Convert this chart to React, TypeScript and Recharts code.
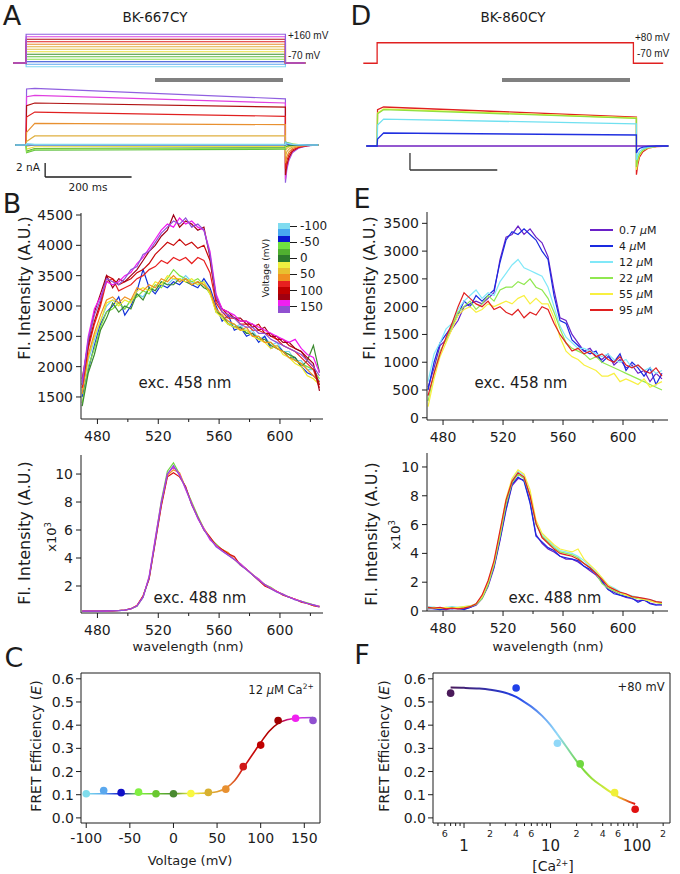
import React from 'react'
import { LineChart, Line, XAxis, YAxis, ReferenceLine } from 'recharts'

const FONT = '"DejaVu Sans", Verdana, sans-serif'
const SMALL = '"Liberation Sans", Arial, sans-serif'
const INK = '#1c1c1c'

// ---------- A: BK-667CY voltage family + currents (nA, ms) ----------
const aVolts = [-100, -80, -60, -40, -20, 0, 20, 40, 60, 80, 100, 120, 140, 160]
const aColors = ['#80d8f0', '#60a8f0', '#2040d0', '#90e050', '#60c040', '#3c9030', '#e8e040', '#e0c050', '#e0b040', '#e89030', '#e02020', '#b01010', '#e040e0', '#9060e0']
const hold = -70
const stepT = [-30, 0, 0, 600, 600, 646]
const aEarly = [0.2, 0.1, 0, -1.0, -1.1, -0.9, -0.6, -0.2, 0.5, 1.8, 4.0, 5.6, 6.9, 8.0]
const aStart = [0.1, 0.05, 0, -0.6, -0.75, -0.5, -0.25, 0.05, 1.3, 3.1, 4.7, 6.0, 7.1, 8.1]
const aEnd = [0.1, 0.05, 0, -0.45, -0.6, -0.4, -0.2, 0.05, 1.3, 2.9, 4.1, 5.4, 6.0, 6.6]
const aTailT = [600, 603, 608, 616, 630, 650, 676]
const aTails = [
  [0.3, 0.25, 0.2, 0.1, 0.05, 0, 0],
  [0.4, 0.3, 0.2, 0.1, 0.05, 0, 0],
  [0.2, 0.15, 0.1, 0.05, 0, 0, 0],
  [0.5, 0.4, 0.3, 0.15, 0.05, 0, 0],
  [0.3, 0.2, 0.15, 0.1, 0, 0, 0],
  [-0.2, -0.15, -0.1, -0.05, 0, 0, 0],
  [-0.4, -0.3, -0.2, -0.1, -0.05, 0, 0],
  [-0.8, -0.5, -0.3, -0.15, -0.05, 0, 0],
  [-1.6, -1.0, -0.6, -0.3, -0.1, 0, 0],
  [-2.6, -1.7, -1.0, -0.5, -0.2, -0.05, 0],
  [-3.4, -2.3, -1.4, -0.7, -0.3, -0.1, 0],
  [-4.3, -2.9, -1.8, -0.9, -0.35, -0.1, 0],
  [-4.9, -3.3, -2.0, -1.0, -0.4, -0.1, 0],
  [-5.4, -3.6, -2.2, -1.1, -0.45, -0.12, 0],
]

// ---------- D: BK-860CY single step + currents ----------
const dStepT = [-32, 0, 0, 593, 593, 662]
const dStepV = [-70, -70, 80, 80, -70, -70]
const dColors = ['#e02020', '#f0f040', '#90e040', '#70e0f0', '#7020c0', '#2030e0']
const dEarly = [5.2, 4.7, 4.6, 3.0, 0, 1.0]
const dStart = [5.57, 5.3, 5.2, 3.85, 0, 1.86]
const dEnd = [4.14, 4.0, 3.95, 3.15, 0, 1.57]
const dTailT = [600, 603, 607, 615, 627, 647, 674]
const dTails = [
  [-4.1, -2.7, -1.6, -0.8, -0.3, -0.08, 0],
  [-3.4, -2.2, -1.3, -0.6, -0.25, -0.05, 0],
  [-3.0, -2.0, -1.2, -0.6, -0.2, -0.05, 0],
  [-2.0, -1.3, -0.8, -0.4, -0.15, -0.05, 0],
  [0, 0, 0, 0, 0, 0, 0],
  [-1.0, -0.6, -0.35, -0.15, -0.05, 0, 0],
]

// ---------- spectra ----------
const wl = [470, 474, 478, 482, 486, 490, 494, 498, 502, 506, 510, 514, 518, 522, 526, 530, 534, 538, 542, 546,
  550, 554, 558, 562, 566, 570, 574, 578, 582, 586, 590, 594, 598, 602, 606, 610, 614, 618, 622, 626]
const wlTicks = [480, 500, 520, 540, 560, 580, 600, 620]

// B, exc. 458 nm, by voltage
const bTopM100 = [1650, 2100, 2450, 2750, 3000, 3100, 3050, 2950, 3100, 3200,
  3150, 3300, 3250, 3400, 3350, 3450, 3400, 3500, 3400, 3350,
  3400, 3250, 2950, 2800, 2750, 2650, 2700, 2550, 2600, 2450,
  2500, 2350, 2400, 2250, 2250, 2100, 2100, 1950, 1950, 1750]
const bTopM60 = [1500, 1950, 2350, 2700, 2900, 3000, 3150, 2850, 3000, 3250,
  3600, 3300, 3200, 3350, 3300, 3400, 3350, 3450, 3350, 3300,
  3450, 3300, 3000, 2750, 2850, 2600, 2650, 2500, 2550, 2400,
  2500, 2300, 2350, 2250, 2150, 2150, 2000, 1900, 1850, 1750]
const bTopM40 = [1400, 2000, 2300, 2650, 2900, 2950, 3050, 2950, 3100, 3150,
  3250, 3200, 3350, 3300, 3450, 3600, 3500, 3450, 3400, 3450,
  3350, 3200, 2950, 2800, 2700, 2700, 2600, 2600, 2500, 2500,
  2400, 2400, 2300, 2250, 2200, 2100, 2050, 2000, 1950, 1800]
const bTop0 = [1350, 1900, 2200, 2600, 2800, 3050, 2900, 3000, 2950, 3200,
  3100, 3300, 3250, 3400, 3350, 3350, 3450, 3400, 3350, 3400,
  3300, 3250, 2900, 2850, 2700, 2650, 2650, 2550, 2550, 2450,
  2450, 2350, 2300, 2250, 2200, 2150, 2000, 2100, 2350, 1900]
const bTop20 = [1600, 2150, 2500, 2750, 3050, 3100, 3000, 3100, 3050, 3250,
  3300, 3250, 3400, 3350, 3500, 3450, 3450, 3400, 3450, 3350,
  3400, 3200, 2900, 2800, 2700, 2650, 2600, 2600, 2500, 2450,
  2400, 2300, 2350, 2200, 2150, 2050, 2000, 1850, 1800, 1700]
const bTop60 = [1550, 2200, 2550, 2850, 3100, 3150, 3050, 3150, 3100, 3300,
  3250, 3350, 3300, 3450, 3400, 3500, 3400, 3450, 3350, 3400,
  3350, 3250, 2950, 2850, 2750, 2700, 2600, 2650, 2500, 2500,
  2400, 2400, 2300, 2250, 2150, 2100, 2050, 1950, 1850, 1750]
const bTop80 = [1650, 2300, 2700, 3000, 3400, 3450, 3250, 3300, 3350, 3450,
  3500, 3600, 3650, 3750, 3700, 3800, 3750, 3800, 3700, 3800,
  3750, 3550, 3050, 2900, 2800, 2800, 2700, 2700, 2600, 2600,
  2550, 2500, 2450, 2350, 2300, 2250, 2150, 2050, 1950, 1650]
const bTop100 = [1700, 2350, 2750, 3050, 3500, 3450, 3350, 3400, 3450, 3550,
  3600, 3700, 3850, 3950, 4050, 4000, 4100, 4000, 4050, 3950,
  4000, 3750, 3100, 2950, 2850, 2800, 2750, 2750, 2650, 2700,
  2550, 2550, 2450, 2450, 2350, 2300, 2250, 2100, 2000, 1700]
const bTop120 = [1800, 2400, 2900, 3200, 3500, 3300, 3450, 3400, 3500, 3600,
  3750, 3900, 4000, 4150, 4250, 4500, 4300, 4400, 4350, 4250,
  4300, 3800, 3150, 2950, 2900, 2800, 2800, 2700, 2700, 2600,
  2650, 2500, 2500, 2400, 2400, 2300, 2250, 2150, 2050, 1600]
const bTop140 = [1750, 2500, 2950, 3150, 3400, 3350, 3400, 3500, 3550, 3700,
  3800, 3950, 4100, 4250, 4350, 4300, 4450, 4350, 4400, 4300,
  4250, 3900, 3200, 2950, 2900, 2850, 2750, 2750, 2700, 2650,
  2600, 2550, 2500, 2450, 2400, 2450, 2300, 2200, 2150, 1900]
const bTop160 = [1700, 2450, 2850, 3100, 3450, 3400, 3350, 3450, 3600, 3650,
  3850, 3900, 4050, 4200, 4300, 4400, 4350, 4450, 4300, 4350,
  4250, 3850, 3150, 2900, 2850, 2800, 2700, 2650, 2650, 2550,
  2550, 2450, 2400, 2350, 2300, 2250, 2200, 2100, 2000, 1850]
const bTopColors = ['#70d0f0', '#1030d8', '#80e040', '#3c8a30', '#f0e828', '#f09020', '#e82020', '#c80808', '#a00018', '#f018f0', '#9050d8']

// B, exc. 488 nm (x10^3)
const bBotGreen = [0.2, 0.2, 0.2, 0.2, 0.21, 0.22, 0.24, 0.28, 0.37, 0.55,
  1.2, 2.6, 5.3, 8.1, 10.2, 10.8, 10.0, 9.0, 8.0, 7.0,
  6.1, 5.4, 5.0, 4.6, 4.3, 3.9, 3.6, 3.2, 2.8, 2.5,
  2.1, 1.9, 1.6, 1.4, 1.2, 1.05, 0.9, 0.8, 0.65, 0.55]
const bBotOrange = [0.2, 0.2, 0.2, 0.21, 0.21, 0.22, 0.25, 0.28, 0.37, 0.6,
  1.25, 2.6, 5.2, 7.8, 9.9, 10.3, 10.1, 9.0, 7.9, 6.9,
  6.1, 5.5, 4.9, 4.6, 4.4, 3.9, 3.5, 3.2, 2.8, 2.4,
  2.1, 1.85, 1.6, 1.4, 1.2, 1.05, 0.9, 0.75, 0.6, 0.55]
const bBotRed = [0.2, 0.2, 0.21, 0.2, 0.22, 0.22, 0.25, 0.28, 0.38, 0.6,
  1.3, 2.5, 5.1, 7.7, 9.8, 10.1, 9.8, 9.1, 7.8, 6.9,
  6.0, 5.5, 4.9, 4.6, 4.3, 4.1, 3.5, 3.2, 2.8, 2.4,
  2.0, 1.8, 1.6, 1.35, 1.2, 1.05, 0.85, 0.75, 0.6, 0.5]
const bBotMagenta = [0.2, 0.21, 0.2, 0.21, 0.21, 0.23, 0.24, 0.27, 0.36, 0.58,
  1.2, 2.7, 5.4, 8.0, 10.0, 10.5, 10.0, 8.9, 7.9, 6.8,
  6.1, 5.3, 4.9, 4.5, 4.2, 3.9, 3.6, 3.2, 2.8, 2.5,
  2.1, 1.85, 1.6, 1.4, 1.2, 1.05, 0.9, 0.75, 0.65, 0.55]
const bBotPurple = [0.21, 0.2, 0.2, 0.21, 0.22, 0.22, 0.24, 0.27, 0.37, 0.57,
  1.2, 2.6, 5.2, 7.9, 10.0, 10.6, 9.9, 9.0, 7.8, 6.9,
  6.0, 5.4, 4.8, 4.5, 4.2, 3.9, 3.5, 3.15, 2.8, 2.4,
  2.1, 1.8, 1.55, 1.4, 1.2, 1.0, 0.9, 0.75, 0.65, 0.5]
const bBotColors = ['#70d840', '#f0a020', '#d81010', '#e828e8', '#9050d8']

// colour bar in B
const barColors = ['#80dcf0', '#48a8f0', '#0818d0', '#70e040', '#50b030', '#2c7a2c', '#f0f040', '#e8c030', '#f09020', '#e82020', '#c00000', '#a00010', '#f020f0', '#9050d0']
const barTicks = [-100, -50, 0, 50, 100, 150]

// E, exc. 458 nm, by [Ca2+]
const eLabels = ['0.7', '4', '12', '22', '55', '95']
const eColors = ['#6a20c8', '#1a2ae0', '#80e8f8', '#90e850', '#f8f040', '#e02020']
const eTop07 = [550, 900, 1300, 1400, 1600, 1750, 2000, 2050, 2100, 2050,
  2150, 2250, 2850, 3250, 3300, 3450, 3300, 3400, 3250, 3150,
  2900, 2300, 1800, 1750, 1500, 1350, 1200, 1250, 1100, 1050,
  1150, 950, 1050, 900, 950, 800, 850, 650, 800, 700]
const eTop4 = [500, 1000, 1350, 1500, 1650, 1850, 2100, 2000, 2200, 2100,
  2200, 2300, 2800, 3200, 3350, 3300, 3400, 3300, 3200, 3000,
  2850, 2200, 1750, 1700, 1400, 1300, 1200, 1150, 1200, 1000,
  1100, 1000, 1150, 850, 1000, 900, 750, 900, 600, 800]
const eTop12 = [650, 1150, 1350, 1600, 1700, 1950, 2100, 2200, 2300, 2150,
  2250, 2200, 2450, 2600, 2750, 2850, 2700, 2650, 2600, 2550,
  2350, 2000, 1650, 1450, 1350, 1250, 1250, 1200, 1150, 1100,
  1150, 1050, 1000, 1050, 900, 950, 850, 900, 800, 850]
const eTop22 = [300, 800, 1200, 1400, 1650, 1900, 2000, 2100, 1950, 2050,
  2200, 2100, 2300, 2350, 2350, 2450, 2400, 2500, 2350, 2300,
  2150, 1900, 1600, 1350, 1250, 1200, 1150, 1050, 1100, 1000,
  950, 900, 850, 800, 750, 700, 650, 600, 550, 500]
const eTop55 = [200, 700, 1100, 1350, 1600, 1850, 1950, 2000, 1900, 1950,
  2050, 2000, 2050, 2100, 2050, 2150, 2200, 2050, 2150, 2050,
  2050, 1800, 1450, 1200, 1100, 1050, 950, 900, 850, 750,
  750, 800, 650, 700, 650, 600, 700, 550, 600, 650]
const eTop95 = [400, 800, 1150, 1450, 1700, 2000, 2250, 2150, 2050, 2000,
  2100, 1950, 2000, 1900, 1850, 1950, 1800, 1900, 1850, 2000,
  1950, 1700, 1500, 1350, 1200, 1250, 1150, 1200, 1100, 1150,
  1050, 1000, 1100, 950, 900, 950, 850, 800, 900, 750]

// E, exc. 488 nm (x10^3)
const eBot07 = [0.15, 0.2, 0.15, 0.1, 0.2, 0.15, 0.15, 0.25, 0.4, 0.85,
  1.7, 3.0, 4.9, 7.0, 8.7, 9.2, 9.1, 7.6, 5.3, 4.7,
  4.3, 4.1, 3.8, 3.6, 3.6, 3.4, 3.1, 2.8, 2.5, 2.0,
  1.5, 1.3, 1.1, 0.95, 0.85, 0.7, 0.75, 0.55, 0.45, 0.4]
const eBot4 = [0.2, 0.15, 0.1, 0.2, 0.15, 0.2, 0.1, 0.25, 0.45, 0.9,
  1.8, 3.1, 5.0, 7.1, 8.8, 9.3, 9.0, 7.5, 5.2, 4.8,
  4.4, 4.2, 3.8, 3.7, 3.6, 3.5, 3.1, 2.9, 2.6, 2.1,
  1.5, 1.2, 1.1, 1.0, 0.9, 0.6, 0.8, 0.5, 0.4, 0.45]
const eBot12 = [0.3, 0.25, 0.2, 0.25, 0.3, 0.25, 0.3, 0.35, 0.5, 0.95,
  1.9, 3.3, 5.3, 7.5, 9.1, 9.7, 9.4, 8.1, 6.0, 5.3,
  4.9, 4.5, 4.2, 4.1, 4.0, 3.8, 3.5, 3.1, 2.7, 2.3,
  1.8, 1.6, 1.35, 1.15, 1.05, 0.95, 0.85, 0.8, 0.65, 0.6]
const eBot22 = [0.2, 0.25, 0.2, 0.2, 0.25, 0.2, 0.25, 0.3, 0.45, 0.85,
  1.8, 3.2, 5.2, 7.4, 8.9, 9.5, 9.2, 8.0, 6.0, 5.2,
  4.8, 4.4, 4.1, 4.0, 3.9, 3.7, 3.3, 3.0, 2.6, 1.9,
  1.6, 1.4, 1.2, 1.1, 0.95, 0.85, 0.8, 0.7, 0.6, 0.5]
const eBot55 = [0.25, 0.2, 0.2, 0.25, 0.2, 0.25, 0.3, 0.35, 0.5, 1.0,
  2.0, 3.4, 5.5, 7.8, 9.2, 9.8, 9.5, 8.4, 6.3, 5.4,
  5.0, 4.6, 4.3, 4.2, 4.1, 4.3, 3.6, 3.2, 2.8, 2.3,
  1.8, 1.5, 1.3, 1.1, 1.0, 0.9, 0.8, 0.7, 0.6, 0.55]
const eBot95 = [0.25, 0.2, 0.25, 0.15, 0.2, 0.15, 0.2, 0.3, 0.5, 1.1,
  2.1, 3.5, 5.6, 7.7, 9.0, 9.6, 9.3, 8.0, 6.1, 5.1,
  4.7, 4.3, 4.0, 3.9, 3.8, 3.6, 3.3, 3.0, 2.6, 2.2,
  1.7, 1.5, 1.3, 1.2, 1.0, 0.95, 0.88, 0.8, 0.65, 0.6]

// ---------- C: FRET vs voltage ----------
const cE = [0.104, 0.118, 0.109, 0.111, 0.104, 0.104, 0.105, 0.11, 0.124, 0.221, 0.314, 0.42, 0.43, 0.42]
const cColors = ['#7fdcec', '#5aa8ee', '#1010c8', '#80f040', '#6ac830', '#4a8a30', '#f8f840', '#d8b030', '#e89030', '#d01818', '#c00000', '#a00000', '#f020f0', '#9050d0']
const cFitV = [-100, -90, -80, -70, -60, -50, -40, -30, -20, -10, 0, 10, 20, 30, 40, 50, 60, 70, 80, 90, 100, 110, 120, 130, 140, 150, 160]
const cFitE = [0.104, 0.104, 0.104, 0.104, 0.104, 0.104, 0.104, 0.104, 0.104, 0.104, 0.104, 0.105, 0.105, 0.106, 0.108, 0.113, 0.128, 0.16, 0.215, 0.27, 0.325, 0.375, 0.408, 0.423, 0.43, 0.432, 0.433]
const cTicks = [-100, -50, 0, 50, 100, 150]
const fretTicks = [0, 0.1, 0.2, 0.3, 0.4, 0.5, 0.6]

// ---------- F: FRET vs [Ca2+] ----------
const fConc = [0.7, 4, 12, 22, 55, 95]
const fE = [0.538, 0.56, 0.322, 0.233, 0.109, 0.037]
const fColors = ['#4a1a5a', '#2040e8', '#90d8f8', '#70d840', '#f0f038', '#e01010']
const fFitC = [0.7, 1, 1.5, 2, 3, 4, 5, 6, 8, 10, 12, 15, 20, 25, 30, 40, 50, 60, 70, 80, 95]
const fFitE = [0.562, 0.561, 0.558, 0.553, 0.54, 0.522, 0.5, 0.48, 0.44, 0.4, 0.36, 0.31, 0.245, 0.2, 0.17, 0.135, 0.11, 0.092, 0.08, 0.07, 0.06]
const fTicks = [0.5, 0.6, 0.7, 0.8, 0.9, 1, 2, 3, 4, 5, 6, 7, 8, 9, 10, 20, 30, 40, 50, 60, 70, 80, 90, 100, 200]
const fMajor = [1, 10, 100]
const fMinorLab = [0.6, 2, 4, 6, 20, 40, 60, 200]

type Rect = { x0: number; y0: number; x1: number; y1: number }
const PAD = 8
function place(r: Rect, yw = 0, xh = 0) {
  return {
    style: { position: 'absolute' as const, left: r.x0 - yw - PAD, top: r.y0 - PAD },
    width: r.x1 - r.x0 + yw + 2 * PAD,
    height: r.y1 - r.y0 + xh + 2 * PAD,
    margin: { top: PAD, right: PAD, bottom: PAD, left: PAD },
  }
}

function Txt({ x, y, size = 13, anchor = 'center', rotate = false, font = FONT, children }: any) {
  const tx = anchor === 'center' ? '-50%' : anchor === 'right' ? '-100%' : '0'
  return (
    <div style={{
      position: 'absolute', left: x, top: y, fontSize: size, lineHeight: 1, whiteSpace: 'nowrap', fontFamily: font,
      transform: `translate(${rotate ? '-50%' : tx}, -50%)${rotate ? ' rotate(-90deg)' : ''}`,
    }}>{children}</div>
  )
}

const WlTick = ({ x, y, payload }: any) => {
  const major = payload.value % 40 === 0
  return (
    <g>
      <line x1={x} x2={x} y1={y} y2={y + (major ? 5 : 3)} stroke={INK} />
      {major && <text x={x} y={y + 22} textAnchor="middle" fontSize={14} fill={INK} fontFamily={FONT}>{payload.value}</text>}
    </g>
  )
}

const FTick = ({ x, y, payload }: any) => {
  const v = payload.value
  const major = fMajor.includes(v)
  const lead = Math.round(v / Math.pow(10, Math.floor(Math.log10(v) + 1e-9)))
  return (
    <g>
      <line x1={x} x2={x} y1={y} y2={y + (major ? 5 : 3)} stroke={INK} />
      {fMinorLab.includes(v) && <text x={x} y={y + 14} textAnchor="middle" fontSize={9.5} fill={INK} fontFamily={FONT}>{lead}</text>}
      {major && <text x={x} y={y + 28} textAnchor="middle" fontSize={15} fill={INK} fontFamily={FONT}>{v}</text>}
    </g>
  )
}

const axisStroke = { stroke: INK }
const tickFont = { fontSize: 14, fill: INK, fontFamily: FONT }

function Spectrum({ rect, series, colors, xDomain, yDomain, yTicks }: any) {
  const rows = wl.map((w, i) => {
    const row: Record<string, number> = { w }
    series.forEach((s: number[], k: number) => { row['s' + k] = s[i] })
    return row
  })
  const p = place(rect, 50, 30)
  return (
    <div style={p.style}>
      <LineChart width={p.width} height={p.height} margin={p.margin} data={rows}>
        <XAxis type="number" dataKey="w" domain={xDomain} allowDataOverflow ticks={wlTicks} interval={0} height={30}
          tickSize={0} tickMargin={0} tickLine={false} axisLine={axisStroke} tick={(t: any) => <WlTick {...t} />} />
        <YAxis type="number" domain={yDomain} allowDataOverflow ticks={yTicks} interval={0} width={50}
          tickSize={5} tickMargin={3} axisLine={axisStroke} tickLine={axisStroke} tick={tickFont} />
        {series.map((_: any, k: number) => (
          <Line key={k} dataKey={'s' + k} stroke={colors[k]} strokeWidth={1.2} dot={false} activeDot={false} isAnimationActive={false} />
        ))}
      </LineChart>
    </div>
  )
}

const aVRect = { x0: 11, y0: 33, x1: 320, y1: 68 }
const aIRect = { x0: 11, y0: 85, x1: 320, y1: 187 }
const dVRect = { x0: 362, y0: 40, x1: 671, y1: 66 }
const dIRect = { x0: 362, y0: 104, x1: 671, y1: 178 }
const cRect = { x0: 81, y0: 673, x1: 320, y1: 823 }
const fRect = { x0: 433, y0: 673, x1: 670, y1: 823 }
const cXDom = [-106, 168]
const fXDom = [0.438, 240]
const fretDom = [-0.022, 0.625]

export default function App() {
  const pav = place(aVRect)
  const pai = place(aIRect)
  const pdv = place(dVRect)
  const pdi = place(dIRect)
  const pc = place(cRect, 40, 30)
  const pf = place(fRect, 40, 36)

  const aTrace = (k: number) => [
    { t: -25, i: 0 }, { t: 0, i: 0 }, { t: 1, i: aEarly[k] }, { t: 20, i: aStart[k] }, { t: 600, i: aEnd[k] },
    ...aTailT.map((t, j) => ({ t, i: aTails[k][j] })),
  ]
  const dTrace = (k: number) => [
    { t: -25, i: 0 }, { t: 0, i: 0 }, { t: 1, i: dEarly[k] }, { t: 15, i: dStart[k] }, { t: 600, i: dEnd[k] },
    ...dTailT.map((t, j) => ({ t, i: dTails[k][j] })),
  ]
  const cPts = aVolts.map((v, i) => ({ v, e: cE[i] }))
  const cFit = cFitV.map((v, i) => ({ v, e: cFitE[i] }))
  const fPts = fConc.map((c, i) => ({ c, e: fE[i] }))
  const fFit = fFitC.map((c, i) => ({ c, e: fFitE[i] }))
  const lg = (c: number) => Math.log10(c)
  const barBand = 90 / barColors.length

  return (
    <div style={{ position: 'absolute', left: 0, top: 0, width: 680, height: 874, background: '#fff', color: INK, fontFamily: FONT, overflow: 'hidden' }}>
      <svg width={0} height={0} style={{ position: 'absolute' }}>
        <defs>
          <linearGradient id="gradC" x1="0" y1="0" x2="1" y2="0">
            {aVolts.map((v, k) => <stop key={k} offset={(v - aVolts[0]) / (aVolts[aVolts.length - 1] - aVolts[0])} stopColor={cColors[k]} />)}
          </linearGradient>
          <linearGradient id="gradF" x1="0" y1="0" x2="1" y2="0">
            {fConc.map((c, k) => <stop key={k} offset={(lg(c) - lg(fConc[0])) / (lg(fConc[fConc.length - 1]) - lg(fConc[0]))} stopColor={fColors[k]} />)}
          </linearGradient>
        </defs>
      </svg>

      {/* panel letters and titles */}
      <Txt x={12} y={15} size={27}>A</Txt>
      <Txt x={361} y={15} size={27}>D</Txt>
      <Txt x={12} y={203} size={27}>B</Txt>
      <Txt x={362} y={198} size={27}>E</Txt>
      <Txt x={14} y={657} size={27}>C</Txt>
      <Txt x={362} y={654} size={27}>F</Txt>
      <Txt x={155} y={18} size={13.5}>BK-667CY</Txt>
      <Txt x={513} y={18} size={13.5}>BK-860CY</Txt>

      {/* A */}
      <div style={pav.style}>
        <LineChart width={pav.width} height={pav.height} margin={pav.margin}>
          <XAxis type="number" dataKey="t" domain={[-35, 680]} allowDataOverflow hide />
          <YAxis type="number" domain={[-110, 170]} allowDataOverflow hide />
          {aVolts.map((V, k) => (
            <Line key={k} data={stepT.map((t, j) => ({ t, v: j >= 2 && j <= 3 ? V : hold }))} dataKey="v"
              stroke={aColors[k]} strokeWidth={1.2} dot={false} activeDot={false} isAnimationActive={false} />
          ))}
        </LineChart>
      </div>
      <Txt x={288} y={36} size={10} anchor="left" font={SMALL}>+160 mV</Txt>
      <Txt x={288} y={56} size={10} anchor="left" font={SMALL}>-70 mV</Txt>
      <div style={{ position: 'absolute', left: 155, top: 78, width: 128, height: 4, background: '#808080' }} />
      <div style={pai.style}>
        <LineChart width={pai.width} height={pai.height} margin={pai.margin}>
          <XAxis type="number" dataKey="t" domain={[-35, 680]} allowDataOverflow hide />
          <YAxis type="number" domain={[-6, 8.571]} allowDataOverflow hide />
          {aVolts.map((_, k) => aVolts.length - 1 - k).map(k => (
            <Line key={k} data={aTrace(k)} dataKey="i" stroke={aColors[k]} strokeWidth={1.2} dot={false} activeDot={false} isAnimationActive={false} />
          ))}
          <ReferenceLine segment={[{ x: 44, y: -2.57 }, { x: 44, y: -4.57 }]} stroke={INK} strokeWidth={1.3} />
          <ReferenceLine segment={[{ x: 44, y: -4.57 }, { x: 244, y: -4.57 }]} stroke={INK} strokeWidth={1.3} />
        </LineChart>
      </div>
      <Txt x={28} y={167} size={10.5}>2 nA</Txt>
      <Txt x={88} y={187} size={10.5}>200 ms</Txt>

      {/* D */}
      <div style={pdv.style}>
        <LineChart width={pdv.width} height={pdv.height} margin={pdv.margin}>
          <XAxis type="number" dataKey="t" domain={[-35, 680]} allowDataOverflow hide />
          <YAxis type="number" domain={[-90, 100]} allowDataOverflow hide />
          <Line data={dStepT.map((t, j) => ({ t, v: dStepV[j] }))} dataKey="v" stroke="#e02020" strokeWidth={1.3} dot={false} activeDot={false} isAnimationActive={false} />
        </LineChart>
      </div>
      <Txt x={635} y={38} size={10} anchor="left" font={SMALL}>+80 mV</Txt>
      <Txt x={637} y={54} size={10} anchor="left" font={SMALL}>-70 mV</Txt>
      <div style={{ position: 'absolute', left: 502, top: 78, width: 128, height: 4, background: '#808080' }} />
      <div style={pdi.style}>
        <LineChart width={pdi.width} height={pdi.height} margin={pdi.margin}>
          <XAxis type="number" dataKey="t" domain={[-35, 680]} allowDataOverflow hide />
          <YAxis type="number" domain={[-4.571, 6]} allowDataOverflow hide />
          {dColors.map((c, k) => (
            <Line key={k} data={dTrace(k)} dataKey="i" stroke={c} strokeWidth={1.3} dot={false} activeDot={false} isAnimationActive={false} />
          ))}
          <ReferenceLine segment={[{ x: 76, y: -1.0 }, { x: 76, y: -3.43 }]} stroke="#333" strokeWidth={1.3} />
          <ReferenceLine segment={[{ x: 76, y: -3.43 }, { x: 278, y: -3.43 }]} stroke="#333" strokeWidth={1.3} />
        </LineChart>
      </div>

      {/* B */}
      <Spectrum rect={{ x0: 81, y0: 213, x1: 323, y1: 419 }} xDomain={[469.2, 628.3]} yDomain={[1137, 4533]}
        yTicks={[1500, 2000, 2500, 3000, 3500, 4000, 4500]}
        series={[bTopM100, bTopM60, bTopM40, bTop0, bTop20, bTop60, bTop80, bTop100, bTop120, bTop140, bTop160]} colors={bTopColors} />
      <Spectrum rect={{ x0: 81, y0: 455, x1: 323, y1: 613 }} xDomain={[469.2, 628.3]} yDomain={[0.07, 11.36]}
        yTicks={[2, 4, 6, 8, 10]}
        series={[bBotGreen, bBotOrange, bBotRed, bBotMagenta, bBotPurple]} colors={bBotColors} />
      <Txt x={25} y={288} size={16} rotate>Fl. Intensity (A.U.)</Txt>
      <Txt x={25} y={533} size={16} rotate>Fl. Intensity (A.U.)</Txt>
      <Txt x={51} y={537} size={13} rotate>x10<sup style={{ fontSize: '0.65em' }}>3</sup></Txt>
      <Txt x={185} y={383} size={15}>exc. 458 nm</Txt>
      <Txt x={200} y={598} size={15}>exc. 488 nm</Txt>
      <Txt x={188} y={646} size={13}>wavelength (nm)</Txt>
      <div style={{ position: 'absolute', left: 278, top: 223, width: 12 }}>
        {barColors.map((c, k) => <div key={k} style={{ height: barBand, background: c }} />)}
      </div>
      {barTicks.map(v => {
        const y = 223 + ((v - aVolts[0]) / 20 + 0.5) * barBand
        return (
          <React.Fragment key={v}>
            <div style={{ position: 'absolute', left: 290, top: y - 0.5, width: 7, height: 1, background: INK }} />
            <Txt x={300} y={y} size={12} anchor="left">{v}</Txt>
          </React.Fragment>
        )
      })}
      <Txt x={266} y={268} size={9} rotate>Voltage (mV)</Txt>

      {/* E */}
      <Spectrum rect={{ x0: 427, y0: 212, x1: 668, y1: 420 }} xDomain={[469.3, 630]} yDomain={[-40, 3704]}
        yTicks={[0, 500, 1000, 1500, 2000, 2500, 3000, 3500]}
        series={[eTop07, eTop4, eTop12, eTop22, eTop55, eTop95]} colors={eColors} />
      <Spectrum rect={{ x0: 427, y0: 453, x1: 668, y1: 611 }} xDomain={[469.3, 630]} yDomain={[0, 10.97]}
        yTicks={[0, 2, 4, 6, 8, 10]}
        series={[eBot07, eBot4, eBot12, eBot22, eBot55, eBot95]} colors={eColors} />
      <Txt x={370} y={288} size={16} rotate>Fl. Intensity (A.U.)</Txt>
      <Txt x={372} y={534} size={16} rotate>Fl. Intensity (A.U.)</Txt>
      <Txt x={395} y={535} size={13} rotate>x10<sup style={{ fontSize: '0.65em' }}>3</sup></Txt>
      <Txt x={521} y={383} size={15}>exc. 458 nm</Txt>
      <Txt x={555} y={598} size={15}>exc. 488 nm</Txt>
      <Txt x={548} y={646} size={13}>wavelength (nm)</Txt>
      {eLabels.map((l, k) => (
        <React.Fragment key={l}>
          <div style={{ position: 'absolute', left: 590, top: 229 + k * 16, width: 23, height: 2, background: eColors[k] }} />
          <Txt x={619} y={230 + k * 16} size={11} anchor="left">{l} <i>μ</i>M</Txt>
        </React.Fragment>
      ))}

      {/* C */}
      <div style={pc.style}>
        <LineChart width={pc.width} height={pc.height} margin={pc.margin}>
          <XAxis type="number" dataKey="v" domain={cXDom} allowDataOverflow ticks={cTicks} interval={0} height={30}
            tickSize={5} tickMargin={5} axisLine={axisStroke} tickLine={axisStroke} tick={tickFont} />
          <YAxis type="number" domain={fretDom} allowDataOverflow ticks={fretTicks} interval={0} width={40}
            tickSize={5} tickMargin={2} axisLine={axisStroke} tickLine={axisStroke} tick={tickFont} tickFormatter={(v: number) => v.toFixed(1)} />
          <ReferenceLine y={fretDom[1]} stroke={INK} ifOverflow="visible" />
          <ReferenceLine x={cXDom[1]} stroke={INK} ifOverflow="visible" />
          <Line data={cFit} dataKey="e" type="monotone" stroke="url(#gradC)" strokeWidth={1.6} dot={false} activeDot={false} isAnimationActive={false} />
          <Line data={cPts} dataKey="e" stroke="none" activeDot={false} isAnimationActive={false}
            dot={(d: any) => <circle key={d.index} cx={d.cx} cy={d.cy} r={3.8} fill={cColors[d.index]} />} />
        </LineChart>
      </div>
      <Txt x={36} y={746} size={14} rotate>FRET Efficiency (<i>E</i>)</Txt>
      <Txt x={281} y={690} size={11.5}>12 <i>μ</i>M Ca<sup style={{ fontSize: '0.65em' }}>2+</sup></Txt>
      <Txt x={190} y={860} size={13}>Voltage (mV)</Txt>

      {/* F */}
      <div style={pf.style}>
        <LineChart width={pf.width} height={pf.height} margin={pf.margin}>
          <XAxis type="number" scale="log" dataKey="c" domain={fXDom} allowDataOverflow ticks={fTicks} interval={0} height={36}
            tickSize={0} tickMargin={0} tickLine={false} axisLine={axisStroke} tick={(t: any) => <FTick {...t} />} />
          <YAxis type="number" domain={fretDom} allowDataOverflow ticks={fretTicks} interval={0} width={40}
            tickSize={5} tickMargin={2} axisLine={axisStroke} tickLine={axisStroke} tick={tickFont} tickFormatter={(v: number) => v.toFixed(1)} />
          <ReferenceLine y={fretDom[1]} stroke={INK} ifOverflow="visible" />
          <ReferenceLine x={fXDom[1]} stroke={INK} ifOverflow="visible" />
          <Line data={fFit} dataKey="e" type="monotone" stroke="url(#gradF)" strokeWidth={2} dot={false} activeDot={false} isAnimationActive={false} />
          <Line data={fPts} dataKey="e" stroke="none" activeDot={false} isAnimationActive={false}
            dot={(d: any) => <circle key={d.index} cx={d.cx} cy={d.cy} r={3.8} fill={fColors[d.index]} />} />
        </LineChart>
      </div>
      <Txt x={384} y={746} size={14} rotate>FRET Efficiency (<i>E</i>)</Txt>
      <Txt x={641} y={688} size={11.5}>+80 mV</Txt>
      <Txt x={553} y={866} size={14}>[Ca<sup style={{ fontSize: '0.6em' }}>2+</sup>]</Txt>
    </div>
  )
}
